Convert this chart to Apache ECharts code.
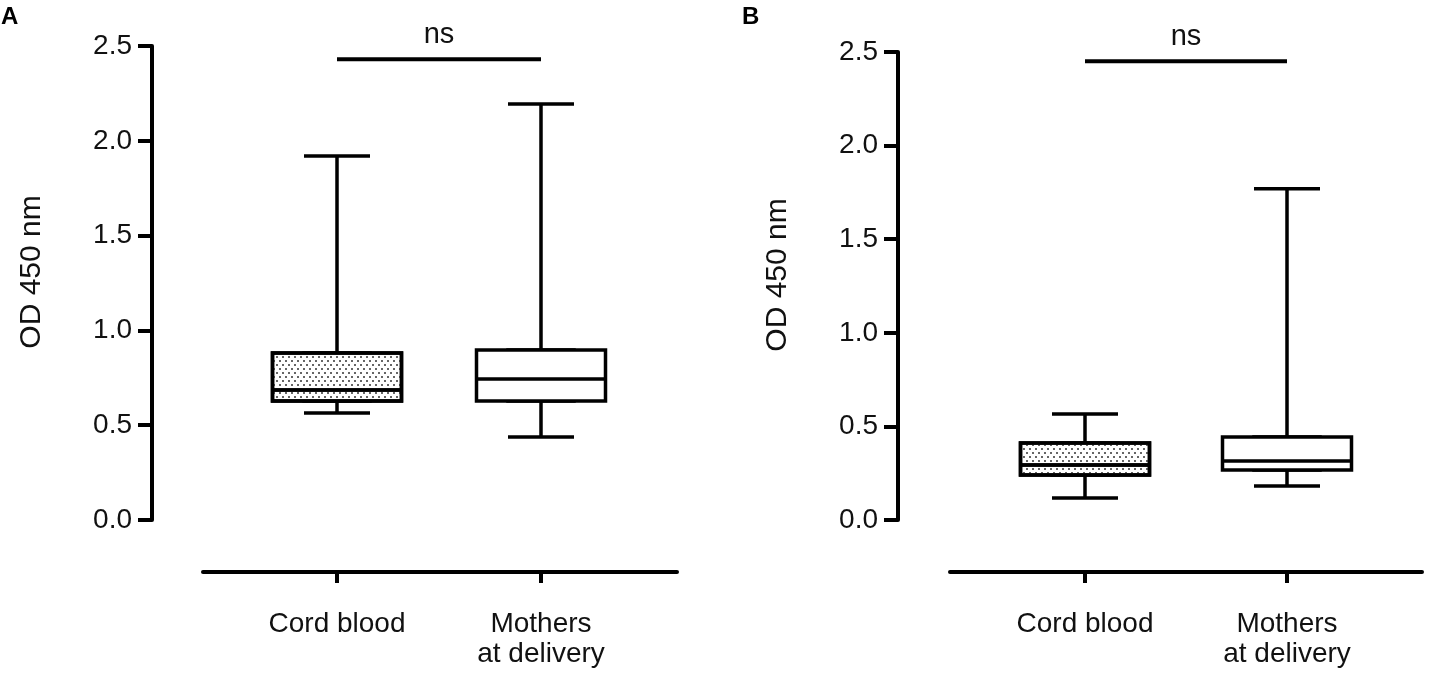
<!DOCTYPE html>
<html>
<head>
<meta charset="utf-8">
<title>OD 450 nm boxplots</title>
<script src="https://cdn.jsdelivr.net/npm/echarts@6/dist/echarts.min.js"></script>
<style>
  html, body { margin: 0; padding: 0; background: #fff; }
  #main { width: 1431px; height: 681px; }
</style>
</head>
<body>
<div id="main"></div>
<script>
// values: [min, Q1, median, Q3, max]
const categories = ['Cord blood', 'Mothers\nat delivery']
const cordBloodA = [0.564, 0.628, 0.686, 0.881, 1.920]
const mothersA = [0.438, 0.628, 0.744, 0.897, 2.194]
const cordBloodB = [0.118, 0.240, 0.294, 0.411, 0.566]
const mothersB = [0.182, 0.267, 0.315, 0.443, 1.770]
const nsLevels = [2.43, 2.45]
const panelNames = ['A', 'B']
const yMin = 0
const yMax = 2.5
const yStep = 0.5

const FONT = 'Liberation Sans, Arial, sans-serif'
const INK = '#000'

// pixel layout of both panels
const layout = [
  { plotLeft: 235, plotWidth: 408, top: 46, height: 474, axisX: 152, lineLeft: 203, lineWidth: 474, labelLeft: 1 },
  { plotLeft: 984, plotWidth: 404, top: 52, height: 468, axisX: 898, lineLeft: 950, lineWidth: 472, labelLeft: 742 }
]

const dotDecal = {
  symbol: 'circle',
  symbolSize: 1,
  color: '#333',
  dashArrayX: [[2, 4], [0, 3, 2, 1]],
  dashArrayY: [2, 2]
}

// box part only: whiskers collapsed onto the box edges
function boxOnly(s) {
  return [s[1], s[1], s[2], s[3], s[3]]
}

function buildPanel(i, cord, mothers, nsLevel, opt) {
  const L = layout[i]
  const xOffset = 572 - (L.top + L.height)

  opt.grid.push({ left: L.plotLeft, top: L.top, width: L.plotWidth, height: L.height, outerBoundsMode: 'none' })
  opt.grid.push({ left: L.lineLeft, top: L.top, width: L.lineWidth, height: L.height, outerBoundsMode: 'none' })

  // visible category axis: ticks and labels only
  opt.xAxis.push({
    type: 'category',
    gridIndex: 2 * i,
    data: categories,
    offset: xOffset,
    axisLine: { show: false, onZero: false },
    axisTick: { show: true, alignWithLabel: true, length: 11, lineStyle: { color: INK, width: 4 } },
    axisLabel: { margin: 37, fontSize: 28, lineHeight: 30, color: '#111', fontFamily: FONT, interval: 0 },
    splitLine: { show: false }
  })
  // hidden twin so the two boxplot series are not dodged
  opt.xAxis.push({ type: 'category', gridIndex: 2 * i, data: categories, show: false })
  // long baseline of the x axis
  opt.xAxis.push({
    type: 'value',
    gridIndex: 2 * i + 1,
    min: 0,
    max: 1,
    offset: xOffset,
    axisLine: { show: true, onZero: false, lineStyle: { color: INK, width: 4 } },
    axisTick: { show: false },
    axisLabel: { show: false },
    splitLine: { show: false }
  })

  opt.yAxis.push({
    type: 'value',
    gridIndex: 2 * i,
    min: yMin,
    max: yMax,
    interval: yStep,
    offset: L.plotLeft - L.axisX,
    name: 'OD 450 nm',
    nameLocation: 'middle',
    nameGap: 105,
    nameMoveOverlap: false,
    nameTextStyle: { fontSize: 30, color: '#111', fontFamily: FONT, padding: [0, 0, 0, 22] },
    axisLine: { show: true, onZero: false, lineStyle: { color: INK, width: 4 } },
    axisTick: { show: true, length: 14, lineStyle: { color: INK, width: 4 } },
    axisLabel: { margin: 20, fontSize: 28, color: '#111', fontFamily: FONT, formatter: v => v.toFixed(1) },
    splitLine: { show: false }
  })
  opt.yAxis.push({ type: 'value', gridIndex: 2 * i + 1, min: 0, max: 1, show: false })

  const boxStyle = { color: '#fff', borderColor: INK, borderWidth: 3.5 }

  opt.series.push({
    name: 'whiskers ' + panelNames[i],
    type: 'boxplot',
    xAxisIndex: 3 * i,
    yAxisIndex: 2 * i,
    boxWidth: [66, 66],
    itemStyle: boxStyle,
    silent: true,
    z: 2,
    data: [cord, mothers]
  })
  opt.series.push({
    name: 'boxes ' + panelNames[i],
    type: 'boxplot',
    xAxisIndex: 3 * i + 1,
    yAxisIndex: 2 * i,
    boxWidth: [129, 129],
    itemStyle: boxStyle,
    silent: true,
    z: 3,
    data: [
      { value: boxOnly(cord), itemStyle: { decal: dotDecal } },
      boxOnly(mothers)
    ]
  })
  opt.series.push({
    name: 'ns ' + panelNames[i],
    type: 'line',
    xAxisIndex: 3 * i,
    yAxisIndex: 2 * i,
    data: [nsLevel, nsLevel],
    showSymbol: false,
    silent: true,
    lineStyle: { color: INK, width: 4 },
    markLine: {
      silent: true,
      symbol: 'none',
      lineStyle: { color: 'rgba(0,0,0,0)', width: 1, type: 'solid' },
      label: {
        show: true,
        position: 'middle',
        distance: 10,
        formatter: 'ns',
        fontSize: 29,
        color: '#111',
        fontFamily: FONT
      },
      data: [[{ coord: [0, nsLevel] }, { coord: [1, nsLevel] }]]
    }
  })

  opt.title.push({
    text: panelNames[i],
    left: L.labelLeft,
    top: 5,
    padding: 0,
    textStyle: { fontSize: 24, fontWeight: 'bold', color: INK, fontFamily: FONT }
  })
}

function main() {
  const myChart = echarts.init(document.getElementById('main'))
  const option = {
    animation: false,
    backgroundColor: '#fff',
    title: [],
    grid: [],
    xAxis: [],
    yAxis: [],
    series: []
  }
  buildPanel(0, cordBloodA, mothersA, nsLevels[0], option)
  buildPanel(1, cordBloodB, mothersB, nsLevels[1], option)
  myChart.setOption(option)
}

window.onload = main
</script>
</body>
</html>
